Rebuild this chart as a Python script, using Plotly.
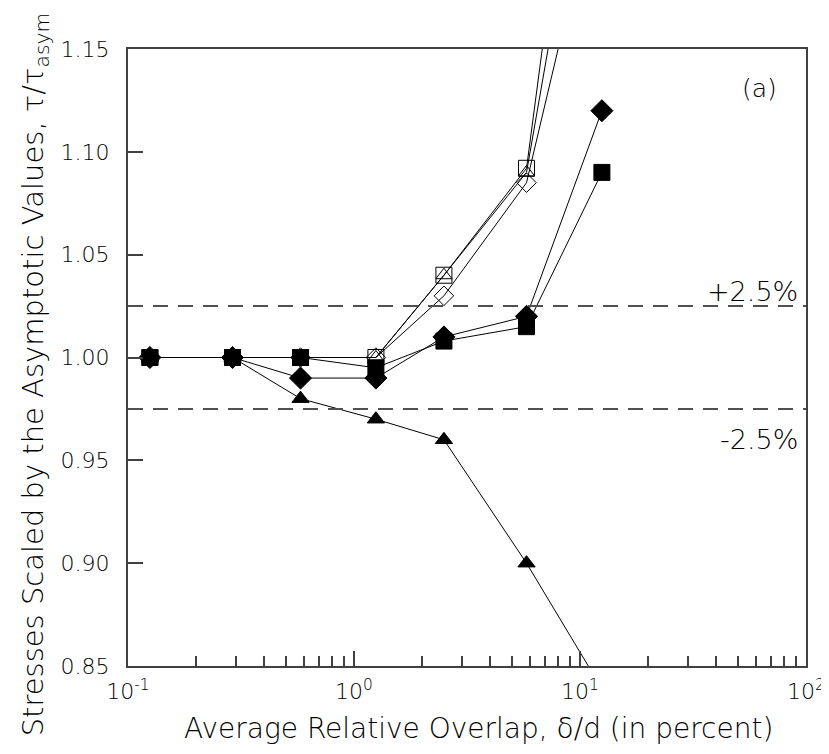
import plotly.graph_objects as go

overlap = [0.125, 0.29, 0.58, 1.25, 2.5, 5.8, 12.5]

filled_triangle = [1.000, 1.000, 0.980, 0.970, 0.960, 0.900, 0.839]
filled_diamond = [1.000, 1.000, 0.990, 0.990, 1.010, 1.020, 1.120]
filled_square = [1.000, 1.000, 1.000, 0.995, 1.008, 1.015, 1.090]
open_square = [1.000, 1.000, 1.000, 1.000, 1.040, 1.092, 1.370]
open_triangle = [1.000, 1.000, 1.000, 1.000, 1.040, 1.090, 1.300]
open_diamond = [1.000, 1.000, 1.000, 1.000, 1.030, 1.085, 1.240]

band_levels = [1.025, 0.975]
band_labels = ["+2.5%", "-2.5%"]

x_tickvals = [0.1, 1, 10, 100]
x_ticktext = ["10<sup>-1</sup>", "10<sup>0</sup>", "10<sup>1</sup>", "10<sup>2</sup>"]
x_minor = [m * d for d in (0.1, 1, 10) for m in range(2, 10)]
y_tickvals = [0.85, 0.90, 0.95, 1.00, 1.05, 1.10, 1.15]

x_title = "Average Relative Overlap, δ/d (in percent)"
y_title = "Stresses Scaled by the Asymptotic Values, τ/τ<sub>asym</sub>"
panel_label = "(a)"

FONT = "DejaVu Sans"
INK = "black"
AX = "#404040"

W, H = 829, 754
ML, MR, MT, MB = 120, 21, 41, 96
PW, PH = W - ML - MR, H - MT - MB


def px_x(p):
    return (p - ML) / PW


def px_y(p):
    return (H - MB - p) / PH


fig = go.Figure()

series = [
    (open_square, "square-open", 16),
    (open_triangle, "triangle-up-open", 14),
    (open_diamond, "diamond-open", 15),
    (filled_square, "square", 16),
    (filled_diamond, "diamond", 17),
    (filled_triangle, "triangle-up", 15),
]
for ys, sym, sz in series:
    fig.add_trace(go.Scatter(
        x=overlap, y=ys, mode="lines+markers",
        line=dict(color=INK, width=1),
        marker=dict(symbol=sym, size=sz, color=INK,
                    line=dict(color=INK, width=1)),
        showlegend=False,
    ))

for lvl in band_levels:
    fig.add_shape(type="line", xref="paper", x0=0, x1=1, yref="y", y0=lvl, y1=lvl,
                  line=dict(color="#505050", width=2, dash="15px,10px"))


def f(size):
    return dict(family=FONT, size=size, color=INK, weight=200)


fig.add_annotation(xref="paper", yref="y", x=px_x(802), y=band_levels[0], text=band_labels[0],
                   showarrow=False, xanchor="right", yanchor="middle", yshift=15,
                   font=f(27))
fig.add_annotation(xref="paper", yref="y", x=px_x(802), y=band_levels[1], text=band_labels[1],
                   showarrow=False, xanchor="right", yanchor="middle", yshift=-31,
                   font=f(27))
fig.add_annotation(xref="paper", yref="paper", x=px_x(761), y=px_y(80), text=panel_label,
                   showarrow=False, xanchor="center", yanchor="middle",
                   font=f(25))
fig.add_annotation(xref="paper", yref="paper", x=px_x(476), y=px_y(720), text=x_title,
                   showarrow=False, xanchor="center", yanchor="middle",
                   font=f(28))
fig.add_annotation(xref="paper", yref="paper", x=px_x(26), y=px_y(366), text=y_title,
                   showarrow=False, xanchor="center", yanchor="middle", textangle=-90,
                   font=f(29))

fig.update_layout(
    width=W, height=H,
    margin=dict(l=ML, r=MR, t=MT, b=MB),
    plot_bgcolor="white", paper_bgcolor="white",
    font=f(22),
)
fig.update_xaxes(
    type="log", range=[-1, 2],
    tickvals=x_tickvals, ticktext=x_ticktext,
    ticks="inside", ticklen=15, tickwidth=2, tickcolor=AX,
    minor=dict(tickvals=x_minor, ticks="inside", ticklen=10, tickwidth=2,
               tickcolor=AX, showgrid=False),
    showline=True, linecolor=AX, linewidth=2, mirror=True,
    showgrid=False, zeroline=False,
    tickfont=f(22), ticklabelstandoff=5,
)
fig.update_yaxes(
    range=[0.85, 1.15],
    tickvals=y_tickvals, tickformat=".2f",
    ticks="inside", ticklen=15, tickwidth=2, tickcolor=AX,
    showline=True, linecolor=AX, linewidth=2, mirror=True,
    showgrid=False, zeroline=False,
    tickfont=f(22), ticklabelstandoff=12,
)

fig.write_html("out.html")
